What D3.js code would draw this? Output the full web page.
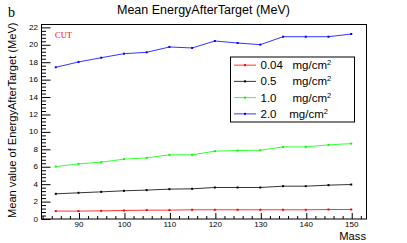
<!DOCTYPE html>
<html>
<head>
<meta charset="utf-8">
<script src="https://cdn.jsdelivr.net/npm/d3@7"></script>
<style>
  body { margin: 0; background: #fff; }
  svg { display: block; font-family: "Liberation Sans", Arial, sans-serif; }
</style>
</head>
<body>
<svg id="chart"></svg>
<script>
const width = 407;
const height = 243;
const frame = { left: 41, right: 366, top: 24, bottom: 218.5 };

// data
const mass = [85, 90, 95, 100, 105, 110, 115, 120, 125, 130, 135, 140, 145, 150];
const e004 = [0.85, 0.85, 0.88, 0.92, 0.96, 0.96, 1.0, 1.0, 1.0, 1.0, 1.0, 1.0, 1.03, 1.03];
const e05 = [2.83, 2.95, 3.06, 3.18, 3.26, 3.37, 3.41, 3.56, 3.56, 3.56, 3.71, 3.71, 3.83, 3.9];
const e10 = [5.96, 6.27, 6.47, 6.81, 6.96, 7.31, 7.31, 7.73, 7.8, 7.84, 8.22, 8.22, 8.45, 8.6];
const e20 = [17.36, 17.97, 18.46, 18.92, 19.08, 19.69, 19.58, 20.38, 20.15, 19.96, 20.87, 20.87, 20.87, 21.18];
const legendLabels = ["0.04   ", "0.5     ", "1.0     ", "2.0    "];
const colors = ["#ff0000", "#000000", "#00ff00", "#0000ff"];
const xTicks = [90, 100, 110, 120, 130, 140, 150];
const yTicks = [0, 2, 4, 6, 8, 10, 12, 14, 16, 18, 20, 22];

const series = [e004, e05, e10, e20].map((vals, i) => ({
  label: legendLabels[i],
  color: colors[i],
  points: vals.map((v, j) => ({ x: mass[j], y: v }))
}));

const svg = d3.select("#chart").attr("width", width).attr("height", height);

const xScale = d3.scaleLinear().domain([81.75, 153.25]).range([frame.left, frame.right]);
const yScale = d3.scaleLinear().domain([0, 22.33]).range([frame.bottom, frame.top]);

// frame
svg.append("rect")
  .attr("x", frame.left + 0.5)
  .attr("y", frame.top + 0.5)
  .attr("width", frame.right - frame.left)
  .attr("height", frame.bottom - frame.top)
  .attr("fill", "none")
  .attr("stroke", "#000");

// minor ticks
const xMinor = d3.range(82, 153, 2).filter(d => d % 10 !== 0);
const yMinor = d3.range(0, 22.3, 0.4).filter(d => Math.abs(d / 2 - Math.round(d / 2)) > 0.01);

svg.append("g")
  .attr("transform", `translate(0.5, ${frame.bottom + 0.5})`)
  .call(d3.axisTop(xScale).tickValues(xMinor).tickSize(3).tickFormat(""))
  .call(g => g.select(".domain").remove());

svg.append("g")
  .attr("transform", `translate(${frame.left + 0.5}, 0.5)`)
  .call(d3.axisRight(yScale).tickValues(yMinor).tickSize(4.5).tickFormat(""))
  .call(g => g.select(".domain").remove());

// major ticks
svg.append("g")
  .attr("transform", `translate(0.5, ${frame.bottom + 0.5})`)
  .call(d3.axisTop(xScale).tickValues(xTicks).tickSize(6).tickFormat(""))
  .call(g => g.select(".domain").remove());

svg.append("g")
  .attr("transform", `translate(${frame.left + 0.5}, 0.5)`)
  .call(d3.axisRight(yScale).tickValues(yTicks).tickSize(9).tickFormat(""))
  .call(g => g.select(".domain").remove());

// tick labels
svg.append("g")
  .selectAll("text")
  .data(xTicks)
  .enter()
  .append("text")
  .attr("x", d => xScale(d) + 0.5)
  .attr("y", 226.5)
  .attr("text-anchor", "middle")
  .attr("font-size", 8)
  .text(d => d);

svg.append("g")
  .selectAll("text")
  .data(yTicks)
  .enter()
  .append("text")
  .attr("x", 38)
  .attr("y", d => yScale(d) + 3)
  .attr("text-anchor", "end")
  .attr("font-size", 8)
  .text(d => d);

// lines and markers
const line = d3.line().x(d => xScale(d.x)).y(d => yScale(d.y));

series.forEach(s => {
  svg.append("path")
    .datum(s.points)
    .attr("d", line)
    .attr("fill", "none")
    .attr("stroke", s.color)
    .attr("stroke-width", 0.8);

  svg.append("g")
    .selectAll("rect")
    .data(s.points)
    .enter()
    .append("rect")
    .attr("x", d => xScale(d.x) - 1)
    .attr("y", d => yScale(d.y) - 1)
    .attr("width", 2)
    .attr("height", 2)
    .attr("fill", s.color);
});

// legend
const legend = svg.append("g");
const lx = 230, ly = 56.5, lw = 124, lh = 65;
legend.append("rect")
  .attr("x", lx + 0.5)
  .attr("y", ly + 0.5)
  .attr("width", lw)
  .attr("height", lh)
  .attr("fill", "#fff")
  .attr("stroke", "#000");

const rows = legend.selectAll(".row")
  .data(series)
  .enter()
  .append("g")
  .attr("transform", (d, i) => `translate(0, ${ly + lh / 8 + i * lh / 4 + 0.5})`);

rows.append("line")
  .attr("x1", 234).attr("x2", 256)
  .attr("stroke-width", 0.8)
  .attr("stroke", d => d.color);
rows.append("rect")
  .attr("x", 244).attr("y", -1).attr("width", 2).attr("height", 2)
  .attr("fill", d => d.color);

const txt = rows.append("text")
  .attr("x", 260.5)
  .attr("y", 4)
  .attr("font-size", 11.5)
  .attr("xml:space", "preserve")
  .style("white-space", "pre");
txt.append("tspan").text(d => d.label + "mg/cm");
txt.append("tspan").attr("dy", -4).attr("font-size", 7.5).text("2");

// texts
svg.append("text")
  .attr("x", 203.5).attr("y", 13.5)
  .attr("text-anchor", "middle")
  .attr("font-size", 12.5)
  .text("Mean EnergyAfterTarget (MeV)");

svg.append("text")
  .attr("x", 8).attr("y", 16.7)
  .attr("font-family", "'Liberation Serif', serif")
  .attr("font-size", 14)
  .text("b");

svg.append("text")
  .attr("x", 55).attr("y", 37.7)
  .attr("font-family", "'Liberation Serif', serif")
  .attr("font-size", 8.5)
  .attr("fill", "#ff0000")
  .text("CUT");

svg.append("text")
  .attr("x", 366).attr("y", 239.5)
  .attr("text-anchor", "end")
  .attr("font-size", 11.2)
  .text("Mass");

svg.append("text")
  .attr("transform", "translate(16.3, 22.5) rotate(-90)")
  .attr("text-anchor", "end")
  .attr("font-size", 11.1)
  .text("Mean value of EnergyAfterTarget (MeV)");
</script>
</body>
</html>
